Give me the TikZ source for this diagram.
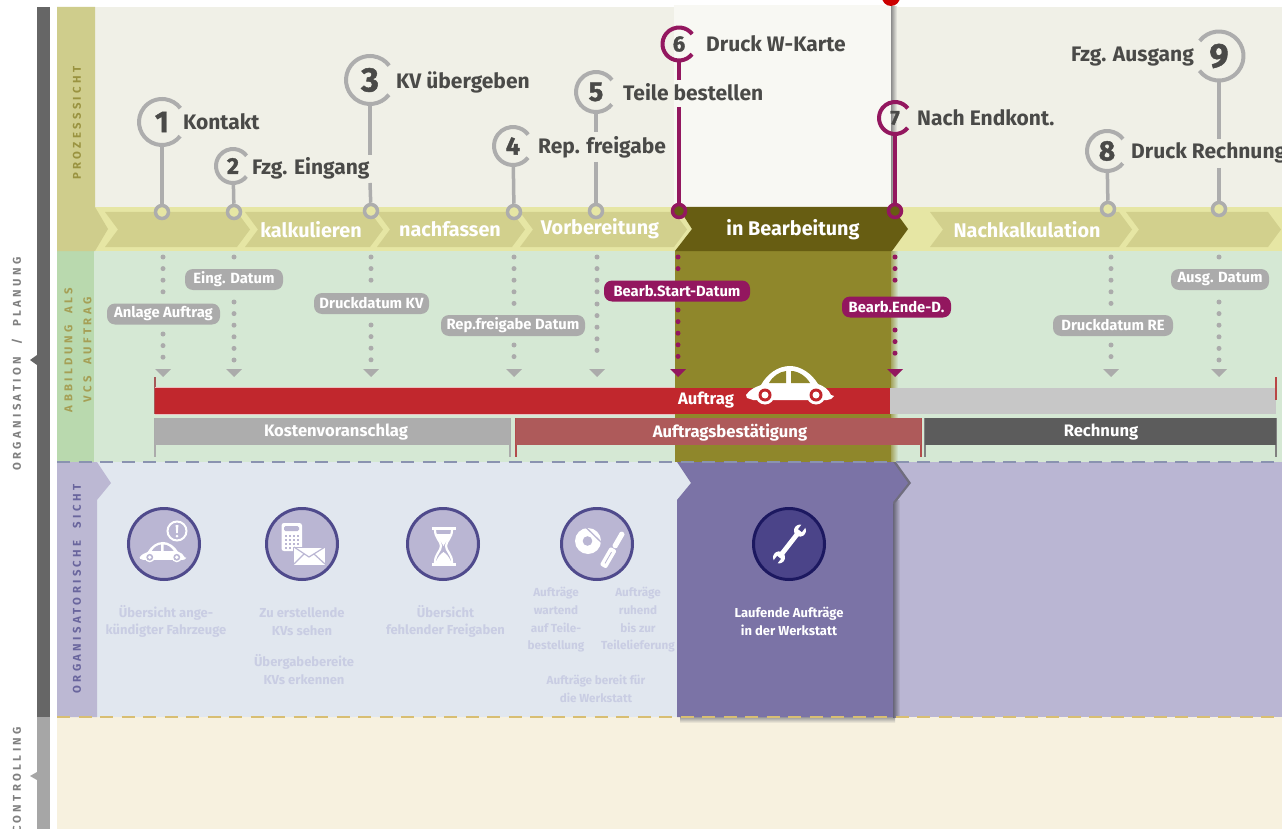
\documentclass[tikz,border=0pt]{standalone}
\usepackage{fontspec}
\setmainfont{Fira Sans}
\newfontfamily\spaced[LetterSpace=30,WordSpace=2]{Fira Sans}
\newfontfamily\numf[BoldFeatures={FakeBold=1.5}]{Fira Sans}
\definecolor{txtc}{HTML}{4A4A48}
\definecolor{purp}{HTML}{93175F}
\definecolor{graystem}{HTML}{ADADAD}
\definecolor{bandc}{HTML}{E6E6A4}
\definecolor{chevc}{HTML}{D2D08D}
\definecolor{stripc}{HTML}{CFCD8C}
\definecolor{topbg}{HTML}{F0F0E7}
\definecolor{hilite}{HTML}{F8F8F3}
\definecolor{greenbg}{HTML}{D5E8D4}
\definecolor{greenst}{HTML}{B9D9AE}
\definecolor{olive}{HTML}{8F872B}
\definecolor{darkol}{HTML}{675D12}
\definecolor{orgbg}{HTML}{E1E7EF}
\definecolor{orgst}{HTML}{BCB8D3}
\definecolor{activ}{HTML}{7B73A6}
\definecolor{lilac}{HTML}{BAB6D3}
\definecolor{ringc}{HTML}{4F4A8C}
\definecolor{beige}{HTML}{F7F1DF}
\definecolor{fadec}{HTML}{C9CDE3}
\definecolor{redbar}{HTML}{C1272D}
\definecolor{barmid}{HTML}{AE5A5A}
\definecolor{dashblue}{HTML}{8A93B0}
\definecolor{dashgold}{HTML}{D8BE72}
\definecolor{actfill}{HTML}{4B4489}
\definecolor{actring}{HTML}{1C1860}
\tikzset{
  pinnum/.style={circle,inner sep=0pt,text=txtc},
  pinlabel/.style={anchor=west,inner sep=0pt,text height=16pt,text depth=1pt,text=txtc,font=\bfseries\fontsize{21}{23}\selectfont},
  ringnode/.style={circle,draw=graystem,line width=3.5pt,fill=bandc,minimum size=13pt,inner sep=0pt},
  pringnode/.style={circle,draw=purp,line width=3.5pt,fill=darkol,minimum size=13pt,inner sep=0pt},
  stem/.style={draw=graystem,line width=3.5pt},
  pstem/.style={draw=purp,line width=3.5pt},
  dots/.style={draw=#1,line width=5pt,line cap=round,dash pattern=on 0pt off 11.6pt},
  dlabel/.style={fill=#1,rounded corners=8pt,text=white,inner sep=0pt,minimum height=21pt,font=\bfseries\fontsize{14.8}{16}\selectfont},
  chevtext/.style={text=white,inner sep=0pt,font=\bfseries\fontsize{19.8}{22}\selectfont},
  bartext/.style={text=white,inner sep=0pt,font=\bfseries\fontsize{16.6}{18}\selectfont},
  sidetext/.style={rotate=90,inner sep=0pt,align=center,font=\spaced\bfseries\fontsize{11.3}{19}\selectfont},
  fade/.style={text=fadec,inner sep=0pt,align=center,font=\bfseries\fontsize{13}{17.5}\selectfont},
  fadesm/.style={fade,font=\bfseries\fontsize{11.7}{17.7}\selectfont},
  iconc/.style={circle,fill=lilac,draw=ringc,line width=3pt,minimum size=71pt,inner sep=0pt},
  dash1/.style={line width=1.6pt,dash pattern=on 13pt off 8.5pt},
  tick/.style={line width=1.5pt},
}
\newcommand\pin[8]{%
  \node[pinnum,minimum size=#4*2pt] (#1) at (#2,#3) {\numf\bfseries\fontsize{#6}{#6}\selectfont #5};
  \draw[line width=4pt,draw=#7] (#2,#3) ++(#8:#4) arc[start angle=#8,end angle=#8+285,radius=#4];
}
\newcommand\chev[3]{\fill[#3] (#1,212) -- (#2,212) -- (#2+13,229.5) -- (#2,247) -- (#1,247) -- (#1+13,229.5) -- cycle;}
\newcommand\tri[2]{\fill[#2] (#1-8,369) -- (#1+8,369) -- (#1,377) -- cycle;}
% beetle: centre x,y ; scale ; window colour ; inner-wheel colour
\newcommand\beetle[5]{%
\begin{scope}[shift={(#1,#2)},scale=#3]
  \fill[white] (-44,10) .. controls (-40,4) and (-34,2) .. (-29,0) .. controls (-23,-11) and (-12,-19) .. (0,-19)
     .. controls (11,-19) and (22,-11) .. (28,-1) .. controls (34,1) and (39,5) .. (41,10) -- (44,11) -- (41,14) -- (37,15) -- (-37,15) -- (-43,13) -- cycle;
  \fill[#4] (-21,-2) .. controls (-17,-9) and (-11,-13) .. (-4,-14) -- (-4,-2) -- cycle;
  \fill[#4] (1,-14) .. controls (8,-14) and (16,-9) .. (20,-2) -- (1,-2) -- cycle;
  \foreach \wx in {-25,26}{
    \fill[white] (\wx,10) circle[radius=9.5];
    \fill[#5] (\wx,10) circle[radius=6.5];
    \fill[white] (\wx,10) circle[radius=3.5];
  }
\end{scope}}
\begin{document}
\begin{tikzpicture}[x=1pt,y=-1pt]
\useasboundingbox (0,0) rectangle (1282,829);
\fill[white] (0,0) rectangle (1282,829);
% left axis
\fill[black!60] (37,7) rectangle (50,717);
\fill[black!35] (37,717) rectangle (50,829);
\fill[black!60] (37,355) -- (30,360) -- (37,365) -- cycle;
\fill[black!35] (37,772) -- (30,776) -- (37,780) -- cycle;
\node[sidetext,text=black!50] (axis1) at (17,364) {ORGANISATION / PLANUNG};
\node[sidetext,text=black!50] (axis2) at (17,780) {CONTROLLING};
% background rows
\fill[topbg] (95,7) rectangle (1282,207);
\fill[hilite] (674,5) rectangle (891,207);
\shade[left color=black!45,right color=topbg] (891,7) rectangle (897,207);
\fill[red!80!black] (891,-3) circle[radius=9];
\fill[greenbg] (94,251) rectangle (1282,462);
\fill[greenst] (57,251) rectangle (94,462);
\fill[olive] (675,251) rectangle (891,462);
\shade[left color=olive!70!greenbg,right color=greenbg] (891,251) rectangle (898,462);
\fill[orgbg] (97,462) rectangle (720,717);
\fill[lilac] (893,462) rectangle (1282,717);
\fill[beige] (57,717) rectangle (1282,829);
\shade[top color=black!40,bottom color=beige] (680,717) rectangle (895,723);
% process band and chevrons
\fill[bandc] (95,207) rectangle (1282,251);
\fill[stripc] (57,7) -- (95,7) -- (95,207) -- (108,229) -- (95,251) -- (57,251) -- cycle;
\chev{105}{237}{chevc}
\chev{245}{370}{chevc}
\chev{377}{512}{chevc}
\chev{520}{674}{chevc}
\chev{930}{1119}{chevc}
\chev{1126}{1268}{chevc}
\fill[darkol] (678,207) -- (892,207) -- (908,229) -- (892,251) -- (675,251) -- (692,229) -- cycle;
\node[chevtext] (c1) at (311,230) {kalkulieren};
\node[chevtext] (c2) at (450,229) {nachfassen};
\node[chevtext] (c3) at (600,229) {Vorbereitung};
\node[chevtext] (c4) at (793,230) {in Bearbeitung};
\node[chevtext] (c5) at (1027,230) {Nachkalkulation};
\node[sidetext,text=olive!90!white] (s1) at (77,123) {PROZESSSICHT};
\node[sidetext,text=olive!80!white] (s2) at (78,350) {ABBILDUNG ALS\\VCS AUFTRAG};
% pins
\node[ringnode] (r1) at (162,212) {};
\node[ringnode] (r2) at (234,212) {};
\node[ringnode] (r3) at (371,211) {};
\node[ringnode] (r4) at (514,212) {};
\node[ringnode] (r5) at (596,211) {};
\node[pringnode] (r6) at (679,211) {};
\node[pringnode] (r7) at (895,211) {};
\node[ringnode] (r8) at (1108,209) {};
\node[ringnode] (r9) at (1219,209) {};
\pin{p1}{162}{122}{23}{1}{30}{graystem}{38}
\pin{p2}{233}{166}{17}{2}{23}{graystem}{38}
\pin{p3}{370}{80}{24}{3}{34}{graystem}{38}
\pin{p4}{513}{146}{19}{4}{25}{graystem}{38}
\pin{p5}{596}{92}{20}{5}{27}{graystem}{38}
\pin{p6}{679}{44}{16.5}{6}{22}{purp}{38}
\pin{p7}{895}{118}{16}{7}{20}{purp}{38}
\pin{p8}{1107}{151}{20}{8}{28}{graystem}{38}
\pin{p9}{1219}{56}{24.5}{9}{34}{graystem}{218}
\coordinate (g3a) at (370,155); \coordinate (g3b) at (370,183);
\coordinate (g5a) at (596,132); \coordinate (g5b) at (596,162);
\coordinate (g6a) at (679,80);  \coordinate (g6b) at (679,107);
\coordinate (g9a) at (1219,139);\coordinate (g9b) at (1219,168);
\draw[stem] (p1) -- (r1);
\draw[stem] (p2) -- (r2);
\draw[stem] (p3) -- (g3a);
\draw[stem] (g3b) -- (r3);
\draw[stem] (p4) -- (r4);
\draw[stem] (p5) -- (g5a);
\draw[stem] (g5b) -- (r5);
\draw[pstem] (p6) -- (g6a);
\draw[pstem] (g6b) -- (r6);
\draw[pstem] (p7) -- (r7);
\draw[stem] (p8) -- (r8);
\draw[stem] (p9) -- (g9a);
\draw[stem] (g9b) -- (r9);
\node[pinlabel] (l1) at (183,122) {Kontakt};
\node[pinlabel] (l2) at (252,167) {Fzg. Eingang};
\node[pinlabel] (l3) at (396,81) {KV übergeben};
\node[pinlabel] (l4) at (538,146) {Rep. freigabe};
\node[pinlabel] (l5) at (623,93) {Teile bestellen};
\node[pinlabel] (l6) at (706,44) {Druck W-Karte};
\node[pinlabel] (l7) at (917,118) {Nach Endkont.};
\node[pinlabel] (l8) at (1131,151) {Druck Rechnung};
\node[pinlabel,anchor=east] (l9) at (1194,54) {Fzg. Ausgang};
% dotted connectors (x, upper run, lower run)
\foreach \n/\x/\ya/\yb/\yc/\yd in {1/163/257/292/334/358,2/234/257/258/302/360,3/371/257/281/325/362,4/514/257/304/345/358,5/597/257/300/304/360,8/1111/257/304/345/358,9/1219/257/258/302/360}{
  \coordinate (d\n) at (\x,\ya); \coordinate (e\n) at (\x,\yb); \coordinate (f\n) at (\x,\yc); \coordinate (a\n) at (\x,\yd);
  \draw[dots=black!33] (d\n) -- (e\n);
  \draw[dots=black!33] (f\n) -- (a\n);
  \tri{\x}{black!33}
}
\foreach \n/\x/\ya/\yb/\yc/\yd in {6/678/257/270/310/358,7/895/257/282/330/362}{
  \coordinate (d\n) at (\x,\ya); \coordinate (e\n) at (\x,\yb); \coordinate (f\n) at (\x,\yc); \coordinate (a\n) at (\x,\yd);
  \draw[dots=purp] (d\n) -- (e\n);
  \draw[dots=purp] (f\n) -- (a\n);
  \tri{\x}{purp}
}
\node[dlabel=black!33,minimum width=113pt] (t1) at (163.5,314) {Anlage Auftrag};
\node[dlabel=black!33,minimum width=98pt] (t2) at (234,279.5) {Eing. Datum};
\node[dlabel=black!33,minimum width=115pt] (t3) at (371.5,303.5) {Druckdatum KV};
\node[dlabel=black!33,minimum width=144pt] (t4) at (513,325.5) {Rep.freigabe Datum};
\node[dlabel=purp,minimum width=146pt] (t5) at (677,291) {Bearb.Start-Datum};
\node[dlabel=purp,minimum width=109pt] (t6) at (896.5,307) {Bearb.Ende-D.};
\node[dlabel=black!33,minimum width=120pt] (t7) at (1113,325.5) {Druckdatum RE};
\node[dlabel=black!33,minimum width=98pt] (t8) at (1220,279.5) {Ausg. Datum};
% bars
\draw[tick,draw=red!30!gray] (155,377) -- (155,414);
\fill[redbar] (155,388) rectangle (890,414);
\draw[redbar!30!white,line width=.8pt] (155,387.6) -- (675,387.6) (155,414.4) -- (675,414.4);
\fill[black!22] (890,388) rectangle (1276,414);
\draw[tick,draw=red!45!gray] (1276,377) -- (1276,400);
\node[bartext] (b1) at (706,400.5) {Auftrag};
\beetle{790}{385}{1}{olive}{redbar}
\foreach \x in {155,510}{\draw[tick,draw=black!33] (\x,418) -- (\x,457);}
\foreach \x in {516,921}{\draw[tick,draw=red!40!gray] (\x,418) -- (\x,457);}
\foreach \x in {925,1276}{\draw[tick,draw=black!50] (\x,418) -- (\x,457);}
\fill[black!32] (155,418) rectangle (510,445);
\fill[barmid] (516,418) rectangle (921,445);
\fill[black!64] (925,418) rectangle (1276,445);
\node[bartext] (b2) at (336,432.5) {Kostenvoranschlag};
\node[bartext] (b3) at (730,432.5) {Auftragsbestätigung};
\node[bartext] (b4) at (1101,432.5) {Rechnung};
% organisational section
\fill[orgst] (57,462) -- (97,462) -- (111,483) -- (97,500) -- (97,717) -- (57,717) -- cycle;
\node[sidetext,text=ringc!85!white] (s3) at (77,589) {ORGANISATORISCHE SICHT};
\shade[left color=black!45!lilac,right color=lilac] (893,500) rectangle (900,717);
\fill[black!40!lilac] (800,462) -- (896,462) -- (911,483) -- (896,502) -- (893,504) -- (800,504) -- cycle;
\fill[activ] (677,462) -- (893,462) -- (908,483) -- (893,502) -- (893,717) -- (677,717) -- (677,500) -- (691,483) -- cycle;
\draw[dash1,draw=dashblue] (57,462) -- (1282,462);
\draw[dash1,draw=dashgold] (57,717) -- (1282,717);
% icons
\node[iconc] (i1) at (164,544) {};
\node[iconc] (i2) at (302,544) {};
\node[iconc] (i3) at (443,544) {};
\node[iconc] (i4) at (597,544) {};
\node[iconc,fill=actfill,draw=actring] (i5) at (789,544) {};
% icon 1
\beetle{163}{552}{0.53}{lilac}{lilac}
\draw[white,line width=2pt] (177,531) circle[radius=9.5];
\fill[white] (175.6,525) -- (178.4,525) -- (177.8,533) -- (176.2,533) -- cycle;
\fill[white] (177,536) circle[radius=1.5];
% icon 2
\fill[white,rounded corners=2.5pt] (281.5,523) rectangle (302,551);
\fill[lilac,rounded corners=1.5pt] (284,526) rectangle (299,531);
\foreach \kx in {285,289,293,297}{\foreach \ky in {534.5,538.5,542.5,546.5}{\fill[lilac] (\kx,\ky) rectangle (\kx+2.2,\ky+2.2);}}
\fill[white,draw=lilac,line width=1pt] (293,547) -- (325,547) -- (325,565) -- (293,565) -- cycle;
\draw[lilac,line width=1.2pt] (294,547) -- (309,557) -- (325,547) (294,564) -- (304,554) (325,564) -- (314,554);
% icon 3
\fill[white] (431.5,526.5) rectangle (455.5,530);
\fill[white] (431.5,562.5) rectangle (455.5,566);
\draw[white,line width=2.2pt] (435,530) .. controls (435,538) and (441,541) .. (441,546) .. controls (441,551) and (435,554) .. (435,562)
  -- (452,562) .. controls (452,554) and (446,551) .. (446,546) .. controls (446,541) and (452,538) .. (452,530);
\fill[white] (436,534) -- (451,534) .. controls (449,540) and (445,542) .. (443.5,546) .. controls (442,542) and (438,540) .. (436,534) -- cycle;
\fill[white] (436,562) .. controls (438,556) and (441,554) .. (443.5,552) .. controls (446,554) and (449,556) .. (451,562) -- cycle;
% icon 4
\fill[white] (588,541) circle[radius=13];
\fill[lilac] (587.5,541) circle[radius=4.8];
\draw[lilac,line width=1.3pt] (585,526.5) -- (602,543);
\begin{scope}[shift={(613,549.5)},rotate=60]
  \fill[white,rounded corners=2pt] (-20,-3.8) rectangle (1,3.8);
  \fill[white,rounded corners=1.5pt] (2,-2.6) rectangle (20,2.6);
  \draw[lilac,line width=.8pt] (-16,0) -- (-3,0);
\end{scope}
% icon 5
\begin{scope}[shift={(789.5,544)},rotate=52]
  \fill[white] (-15,-2.4) rectangle (15,2.4);
  \fill[white] (-17,0) circle[radius=6];
  \fill[white] (17,0) circle[radius=6];
  \fill[actfill] (-24,-2.4) rectangle (-17,2.4);
  \fill[actfill] (17,-2.4) rectangle (24,2.4);
\end{scope}
% organisational texts
\node[fade] (f1) at (166,621.5) {Übersicht ange-\\kündigter Fahrzeuge};
\node[fade] (f2) at (302,621.5) {Zu erstellende\\KVs sehen};
\node[fade] (f3) at (304,669.5) {Übergabebereite\\KVs erkennen};
\node[fade] (f4) at (445.5,621.5) {Übersicht\\fehlender Freigaben};
\node[fadesm] (f5) at (556,620) {Aufträge\\wartend\\auf Teile-\\bestellung};
\node[fadesm] (f6) at (638,620) {Aufträge\\ruhend\\bis zur\\Teilelieferung};
\node[fadesm] (f7) at (596,689) {Aufträge bereit für\\die Werkstatt};
\node[fade,text=white] (f8) at (789,621.5) {Laufende Aufträge\\in der Werkstatt};
\end{tikzpicture}
\end{document}
